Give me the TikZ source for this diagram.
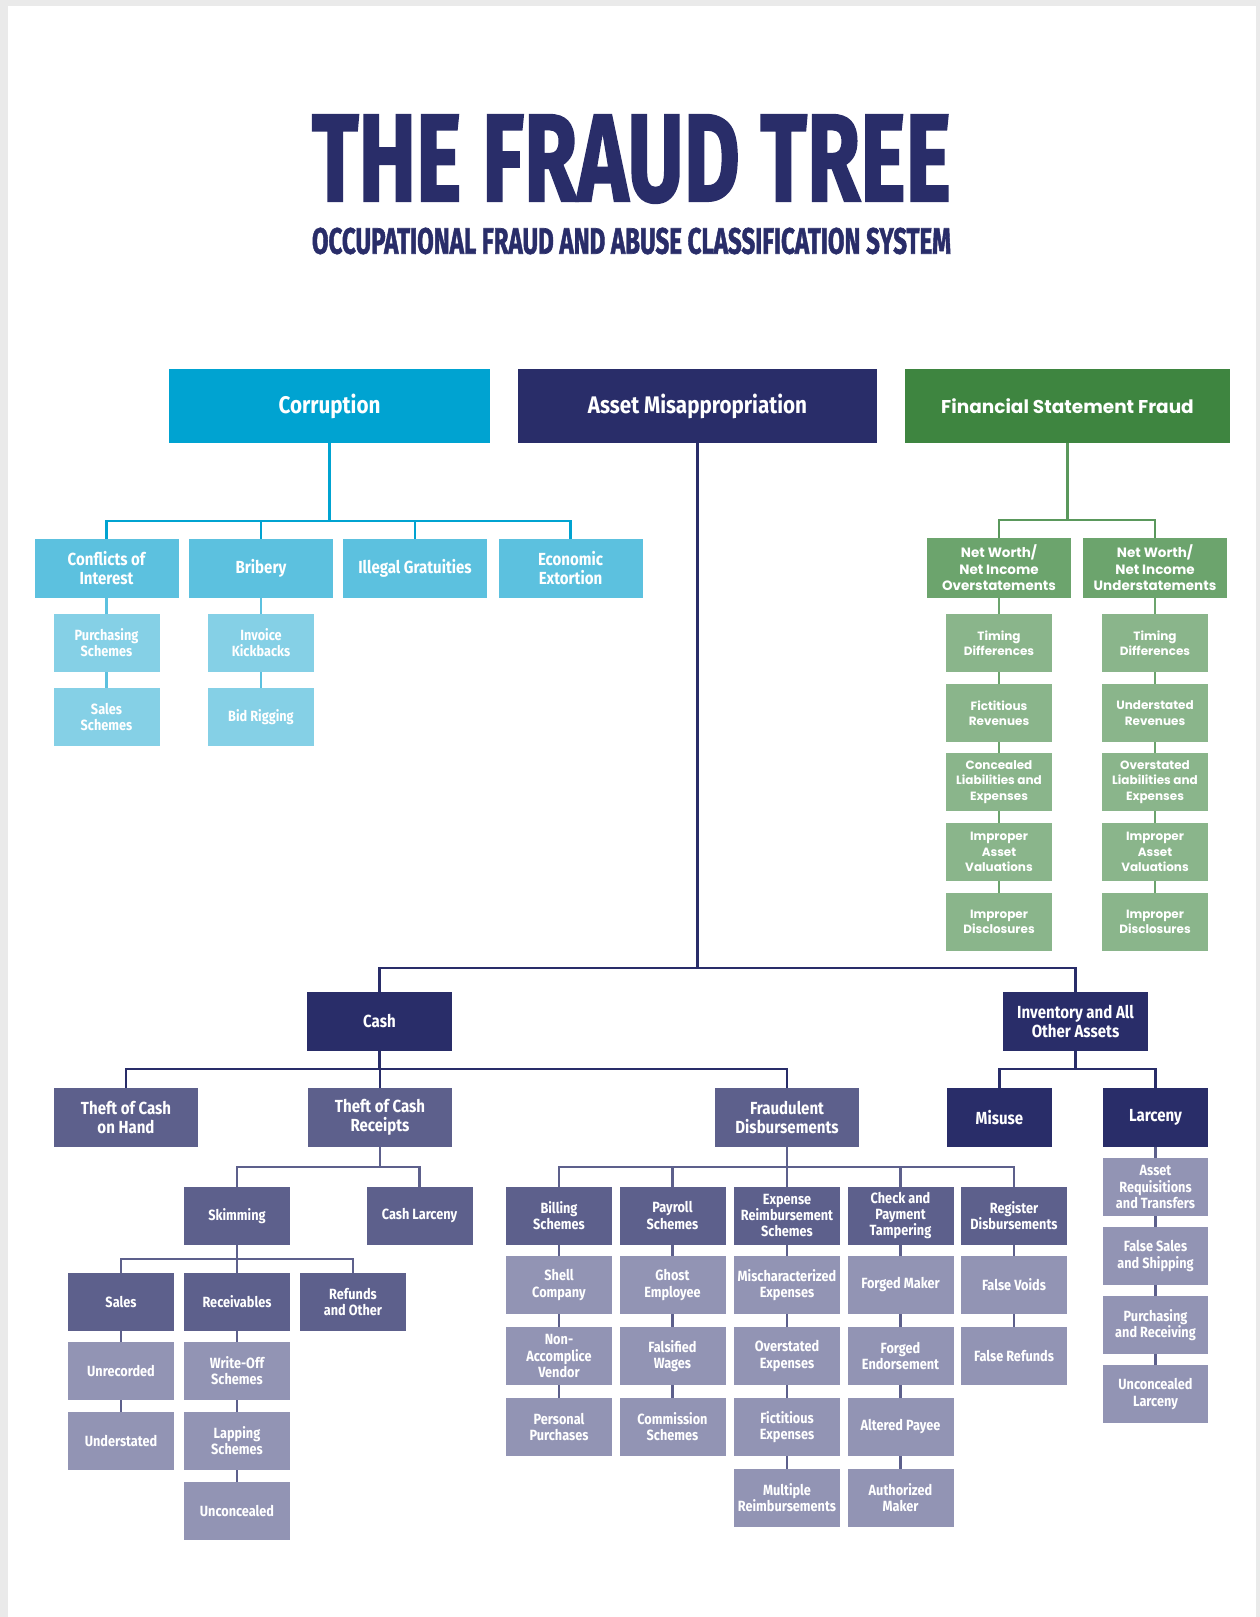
\documentclass[tikz,border=0pt]{standalone}
\usepackage{fontspec}
\usepackage{graphicx}
\newfontfamily\condfont{Fira Sans}[FakeStretch=0.86]
\newfontfamily\titlefont{Fira Sans}[BoldFeatures={FakeBold=1.8}]
\newfontfamily\widefont{Poppins}

\definecolor{navy}{RGB}{41,45,105}
\definecolor{navymid}{RGB}{93,96,140}
\definecolor{navylight}{RGB}{146,148,180}
\definecolor{corrmain}{RGB}{0,163,209}
\definecolor{corrmid}{RGB}{92,193,223}
\definecolor{corrlight}{RGB}{133,208,230}
\definecolor{fsfmain}{RGB}{62,133,64}
\definecolor{fsfline}{RGB}{90,152,92}
\definecolor{fsfmid}{RGB}{108,164,109}
\definecolor{fsflight}{RGB}{138,181,139}
\definecolor{pagegray}{RGB}{234,234,234}

\tikzset{
  box/.style={draw=none, text=white, align=center, inner sep=0pt, outer sep=0pt},
  topbox/.style={box, minimum height=74pt, font=\condfont\bfseries\fontsize{24}{28}\selectfont},
  mbox/.style={box, minimum width=144pt, minimum height=59pt, font=\condfont\bfseries\fontsize{17.5}{19}\selectfont},
  sbox/.style={box, minimum width=106pt, minimum height=58pt, font=\condfont\bfseries\fontsize{14.8}{16.2}\selectfont},
  fmbox/.style={box, minimum width=144pt, minimum height=60pt, fill=fsfmid, font=\widefont\bfseries\fontsize{13.5}{16.5}\selectfont},
  fsbox/.style={box, minimum width=106pt, minimum height=58pt, fill=fsflight, font=\widefont\bfseries\fontsize{12}{15.5}\selectfont},
  link/.style={line width=2.2pt},
}

\begin{document}
\begin{tikzpicture}[x=1pt,y=-1pt]
\useasboundingbox (0,0) rectangle (1260,1617);
% sheet
\fill[pagegray] (0,0) rectangle (1260,1617);
\fill[white] (8,6) rectangle (1256,1617);

% heading
\node[inner sep=0pt, text=navy] (title) at (631.5,159)
  {\resizebox{639pt}{86pt}{\titlefont\bfseries THE FRAUD TREE}};
\node[inner sep=0pt, text=navy] (subtitle) at (631.5,241)
  {\resizebox{639pt}{26pt}{\titlefont\bfseries OCCUPATIONAL FRAUD AND ABUSE CLASSIFICATION SYSTEM}};

% three main branches
\node[topbox, minimum width=321pt, fill=corrmain] (corr) at (329.5,406) {Corruption};
\node[topbox, minimum width=359pt, fill=navy] (asset) at (697.5,406) {Asset Misappropriation};
\node[topbox, minimum width=325pt, fill=fsfmain, font=\widefont\bfseries\fontsize{18.5}{22}\selectfont] (fsf) at (1067.5,406) {Financial Statement Fraud};

% ---------- Corruption ----------
\node[mbox, fill=corrmid] (coi) at (106.5,568) {Conflicts of\\Interest};
\node[mbox, fill=corrmid] (bri) at (261,568) {Bribery};
\node[mbox, fill=corrmid] (ill) at (415,568) {Illegal Gratuities};
\node[mbox, fill=corrmid] (eco) at (570.5,568) {Economic\\Extortion};
\node[sbox, fill=corrlight] (pur) at (106.5,643) {Purchasing\\Schemes};
\node[sbox, fill=corrlight] (sal) at (106.5,717) {Sales\\Schemes};
\node[sbox, fill=corrlight] (kick) at (261,643) {Invoice\\Kickbacks};
\node[sbox, fill=corrlight] (bid) at (261,717) {Bid Rigging};

\coordinate (cbar) at (0,521);
\draw[link, corrmain] (corr.south) -- (corr.south |- cbar);
\draw[link, corrmain] (coi.north) -- (coi.north |- cbar) -- (eco.north |- cbar) -- (eco.north);
\draw[link, corrmain] (bri.north) -- (bri.north |- cbar);
\draw[link, corrmain] (ill.north) -- (ill.north |- cbar);
\draw[link, corrmid] (coi.south) -- (pur.north);
\draw[link, corrmid] (pur.south) -- (sal.north);
\draw[link, corrmid] (bri.south) -- (kick.north);
\draw[link, corrmid] (kick.south) -- (bid.north);

% ---------- Financial statement fraud ----------
\node[fmbox] (over) at (999,568) {Net Worth/\\Net Income\\Overstatements};
\node[fmbox] (under) at (1155,568) {Net Worth/\\Net Income\\Understatements};
\node[fsbox] (o1) at (999,643) {Timing\\Differences};
\node[fsbox] (o2) at (999,713) {Fictitious\\Revenues};
\node[fsbox] (o3) at (999,782) {Concealed\\Liabilities and\\Expenses};
\node[fsbox] (o4) at (999,852) {Improper\\Asset\\Valuations};
\node[fsbox] (o5) at (999,922) {Improper\\Disclosures};
\node[fsbox] (u1) at (1155,643) {Timing\\Differences};
\node[fsbox] (u2) at (1155,713) {Understated\\Revenues};
\node[fsbox] (u3) at (1155,782) {Overstated\\Liabilities and\\Expenses};
\node[fsbox] (u4) at (1155,852) {Improper\\Asset\\Valuations};
\node[fsbox] (u5) at (1155,922) {Improper\\Disclosures};

\coordinate (fbar) at (0,520);
\draw[link, fsfline] (fsf.south) -- (fsf.south |- fbar);
\draw[link, fsfline] (over.north) -- (over.north |- fbar) -- (under.north |- fbar) -- (under.north);
\foreach \a/\b in {over/o1,o1/o2,o2/o3,o3/o4,o4/o5,under/u1,u1/u2,u2/u3,u3/u4,u4/u5}
  \draw[link, fsfmid] (\a.south) -- (\b.north);

% ---------- Asset misappropriation ----------
\node[mbox, fill=navy, minimum width=145pt] (cash) at (379.5,1021.5) {Cash};
\node[mbox, fill=navy, minimum width=145pt] (inv) at (1075.5,1021.5) {Inventory and All\\Other Assets};

\coordinate (abar) at (0,968);
\draw[link, navy] (asset.south) -- (asset.south |- abar);
\draw[link, navy] (cash.north) -- (cash.north |- abar) -- (inv.north |- abar) -- (inv.north);

% cash
\node[mbox, fill=navymid] (tcoh) at (126,1117.5) {Theft of Cash\\on Hand};
\node[mbox, fill=navymid] (tcr) at (380,1117.5) {Theft of Cash\\Receipts};
\node[mbox, fill=navymid] (fd) at (787,1117.5) {Fraudulent\\Disbursements};
\coordinate (cshbar) at (0,1069);
\draw[link, navy] (cash.south) -- (cash.south |- cshbar);
\draw[link, navy] (tcoh.north) -- (tcoh.north |- cshbar) -- (fd.north |- cshbar) -- (fd.north);
\draw[link, navy] (tcr.north) -- (tcr.north |- cshbar);

% inventory and all other assets
\node[mbox, fill=navy, minimum width=105pt] (misuse) at (999.5,1117.5) {Misuse};
\node[mbox, fill=navy, minimum width=105pt] (larc) at (1155.5,1117.5) {Larceny};
\coordinate (ibar) at (0,1069);
\draw[link, navy] (inv.south) -- (inv.south |- ibar);
\draw[link, navy] (misuse.north) -- (misuse.north |- ibar) -- (larc.north |- ibar) -- (larc.north);
\node[sbox, fill=navylight, minimum width=105pt] (l1) at (1155.5,1187) {Asset\\Requisitions\\and Transfers};
\node[sbox, fill=navylight, minimum width=105pt] (l2) at (1155.5,1256) {False Sales\\and Shipping};
\node[sbox, fill=navylight, minimum width=105pt] (l3) at (1155.5,1325) {Purchasing\\and Receiving};
\node[sbox, fill=navylight, minimum width=105pt] (l4) at (1155.5,1394) {Unconcealed\\Larceny};
\foreach \a/\b in {larc/l1,l1/l2,l2/l3,l3/l4}
  \draw[link, navymid] (\a.south) -- (\b.north);

% theft of cash receipts
\node[sbox, fill=navymid] (skim) at (237,1216) {Skimming};
\node[sbox, fill=navymid] (clar) at (419.5,1216) {Cash Larceny};
\coordinate (rbar) at (0,1167);
\draw[link, navymid] (tcr.south) -- (tcr.south |- rbar);
\draw[link, navymid] (skim.north) -- (skim.north |- rbar) -- (clar.north |- rbar) -- (clar.north);

\node[sbox, fill=navymid] (sales) at (121,1302) {Sales};
\node[sbox, fill=navymid] (recv) at (237,1302) {Receivables};
\node[sbox, fill=navymid] (refo) at (353,1302) {Refunds\\and Other};
\coordinate (sbar) at (0,1259);
\draw[link, navymid] (skim.south) -- (recv.north);
\draw[link, navymid] (sales.north) -- (sales.north |- sbar) -- (refo.north |- sbar) -- (refo.north);

\node[sbox, fill=navylight] (unrec) at (121,1371) {Unrecorded};
\node[sbox, fill=navylight] (undst) at (121,1441) {Understated};
\node[sbox, fill=navylight] (wo) at (237,1371) {Write-Off\\Schemes};
\node[sbox, fill=navylight] (lap) at (237,1441) {Lapping\\Schemes};
\node[sbox, fill=navylight] (unc) at (237,1511) {Unconcealed};
\foreach \a/\b in {sales/unrec,unrec/undst,recv/wo,wo/lap,lap/unc}
  \draw[link, navymid] (\a.south) -- (\b.north);

% fraudulent disbursements
\node[sbox, fill=navymid] (bill) at (559,1215.5) {Billing\\Schemes};
\node[sbox, fill=navymid] (pay) at (672.5,1215.5) {Payroll\\Schemes};
\node[sbox, fill=navymid] (exp) at (787,1215.5) {Expense\\Reimbursement\\Schemes};
\node[sbox, fill=navymid] (chk) at (900.5,1215.5) {Check and\\Payment\\Tampering};
\node[sbox, fill=navymid] (reg) at (1014,1215.5) {Register\\Disbursements};
\coordinate (dbar) at (0,1167);
\draw[link, navymid] (fd.south) -- (exp.north);
\draw[link, navymid] (bill.north) -- (bill.north |- dbar) -- (reg.north |- dbar) -- (reg.north);
\draw[link, navymid] (pay.north) -- (pay.north |- dbar);
\draw[link, navymid] (chk.north) -- (chk.north |- dbar);

\node[sbox, fill=navylight] (b1) at (559,1285) {Shell\\Company};
\node[sbox, fill=navylight] (b2) at (559,1356) {Non-\\Accomplice\\Vendor};
\node[sbox, fill=navylight] (b3) at (559,1427) {Personal\\Purchases};
\node[sbox, fill=navylight] (p1) at (672.5,1285) {Ghost\\Employee};
\node[sbox, fill=navylight] (p2) at (672.5,1356) {Falsified\\Wages};
\node[sbox, fill=navylight] (p3) at (672.5,1427) {Commission\\Schemes};
\node[sbox, fill=navylight] (e1) at (787,1285) {Mischaracterized\\Expenses};
\node[sbox, fill=navylight] (e2) at (787,1356) {Overstated\\Expenses};
\node[sbox, fill=navylight] (e3) at (787,1427) {Fictitious\\Expenses};
\node[sbox, fill=navylight] (e4) at (787,1498) {Multiple\\Reimbursements};
\node[sbox, fill=navylight] (c1) at (900.5,1285) {Forged Maker};
\node[sbox, fill=navylight] (c2) at (900.5,1356) {Forged\\Endorsement};
\node[sbox, fill=navylight] (c3) at (900.5,1427) {Altered Payee};
\node[sbox, fill=navylight] (c4) at (900.5,1498) {Authorized\\Maker};
\node[sbox, fill=navylight] (r1) at (1014,1285) {False Voids};
\node[sbox, fill=navylight] (r2) at (1014,1356) {False Refunds};
\foreach \a/\b in {bill/b1,b1/b2,b2/b3,pay/p1,p1/p2,p2/p3,exp/e1,e1/e2,e2/e3,e3/e4,chk/c1,c1/c2,c2/c3,c3/c4,reg/r1,r1/r2}
  \draw[link, navymid] (\a.south) -- (\b.north);
\end{tikzpicture}
\end{document}
